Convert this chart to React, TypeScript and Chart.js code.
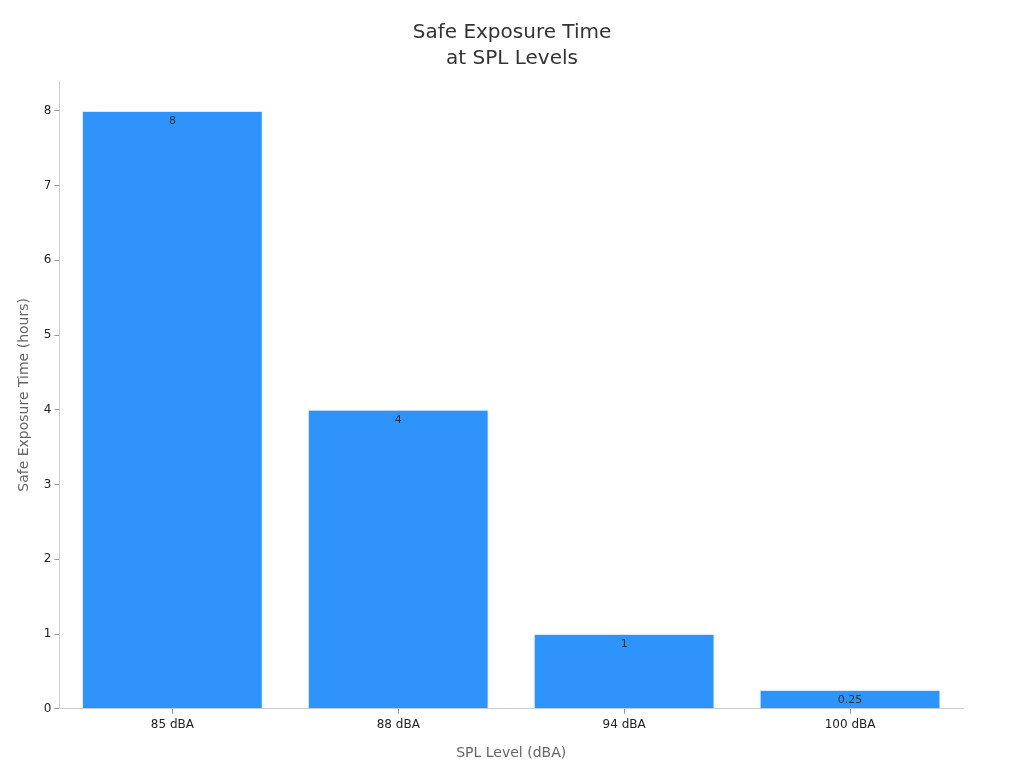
import { useEffect, useRef } from "react";
import { Chart, registerables } from "chart.js";

Chart.register(...registerables);

const levels = ["85 dBA", "88 dBA", "94 dBA", "100 dBA"];
const hours = [8, 4, 1, 0.25];
const titleLines = ["Safe Exposure Time", "at SPL Levels"];

const FONT = "'DejaVu Sans', sans-serif";

// values drawn just under the top of each bar
const barLabels = {
  id: "barLabels",
  afterDatasetsDraw(chart: any) {
    const { ctx } = chart;
    const meta = chart.getDatasetMeta(0);
    ctx.save();
    ctx.font = `11px ${FONT}`;
    ctx.fillStyle = "#333";
    ctx.textAlign = "center";
    ctx.textBaseline = "middle";
    meta.data.forEach((bar: any, i: number) => {
      ctx.fillText(String(hours[i]), bar.x, bar.y + 10);
    });
    ctx.restore();
  },
};

// title centred on the whole canvas, not on the padded layout box
const centerTitle = {
  id: "centerTitle",
  afterDraw(chart: any) {
    const { ctx, width } = chart;
    ctx.save();
    ctx.font = `20px ${FONT}`;
    ctx.fillStyle = "#333";
    ctx.textAlign = "center";
    ctx.textBaseline = "middle";
    titleLines.forEach((line, i) => {
      ctx.fillText(line, width / 2, 33 + i * 26);
    });
    ctx.restore();
  },
};

export default function App() {
  const canvasRef = useRef<HTMLCanvasElement>(null);

  useEffect(() => {
    if (!canvasRef.current) return;
    const axisGrid = {
      display: true,
      drawOnChartArea: false,
      drawTicks: true,
      tickLength: 5,
      color: "#999",
      offset: false,
    };
    const chart = new Chart(canvasRef.current, {
      type: "bar",
      data: {
        labels: levels,
        datasets: [
          {
            label: "Safe Exposure Time",
            data: hours,
            backgroundColor: "#2e93fa",
            borderColor: "#d6e9fd",
            borderWidth: 1,
            categoryPercentage: 1,
            barPercentage: 0.8,
          },
        ],
      },
      options: {
        animation: false,
        responsive: true,
        maintainAspectRatio: false,
        layout: { padding: { top: 81, right: 61, left: 12, bottom: 2 } },
        plugins: {
          legend: { display: false },
          tooltip: { enabled: false },
          title: { display: false },
        },
        scales: {
          x: {
            offset: true,
            grid: axisGrid,
            border: { color: "#ccc" },
            ticks: { color: "#222", font: { family: FONT, size: 12 }, padding: 4 },
            title: {
              display: true,
              text: "SPL Level (dBA)",
              color: "#666",
              font: { family: FONT, size: 14 },
              padding: { top: 9, bottom: 4 },
            },
          },
          y: {
            min: 0,
            max: 8.4,
            grid: axisGrid,
            border: { color: "#ccc" },
            ticks: { stepSize: 1, color: "#222", font: { family: FONT, size: 12 }, padding: 3 },
            afterBuildTicks: (scale: any) => {
              scale.ticks = scale.ticks.filter((t: any) => Number.isInteger(t.value));
            },
            title: {
              display: true,
              text: "Safe Exposure Time (hours)",
              color: "#666",
              font: { family: FONT, size: 14 },
              padding: { top: 4, bottom: 8 },
            },
          },
        },
      },
      plugins: [barLabels, centerTitle],
    });
    return () => chart.destroy();
  }, []);

  return (
    <div style={{ width: 1024, height: 768, margin: -8, background: "#fff" }}>
      <canvas ref={canvasRef}></canvas>
    </div>
  );
}
